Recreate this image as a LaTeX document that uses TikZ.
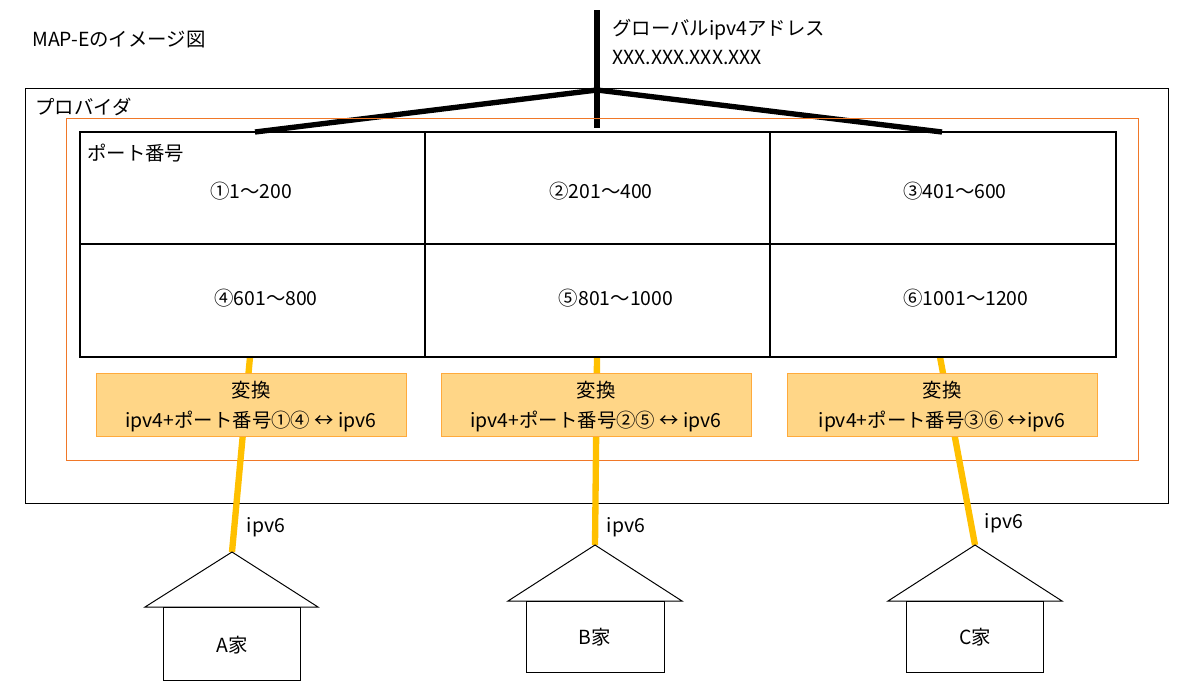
\documentclass[tikz,border=0pt]{standalone}
\usepackage{fontspec}
\setmainfont{Noto Sans CJK JP}
\begin{document}
\begin{tikzpicture}[x=0.025cm,y=-0.025cm,
  txt/.style={font=\fontsize{13.8pt}{16pt}\selectfont, inner sep=0pt},
  yl/.style={line width=4.5pt, draw={rgb,255:red,255;green,192;blue,0}},
  bk/.style={line width=3.8pt, draw=black},
  conv/.style={draw={rgb,255:red,255;green,170;blue,60}, fill={rgb,255:red,255;green,214;blue,135}, line width=0.6pt},
  house/.style={draw=black, fill=white, line width=0.7pt}]
\useasboundingbox (0,0) rectangle (1200,687);
\node[txt,anchor=west] (title) at (32,40) {MAP-Eのイメージ図};
% global
\coordinate (top) at (597,10);
\coordinate (hub) at (597,90);
\coordinate (gL) at (255,132);
\coordinate (gM) at (597,128);
\coordinate (gR) at (942,132);
\draw[bk] (top) -- (gM);
\draw[bk] (gL) -- (hub) -- (gR);
\node[txt,anchor=west] (g1) at (612,30) {グローバルipv4アドレス};
\node[txt,anchor=west] (g2) at (612,58) {XXX.XXX.XXX.XXX};
% provider
\draw[line width=0.7pt] (25,88) rectangle (1168,503);
\node[txt,anchor=west] (prov) at (35,107) {プロバイダ};
\draw[draw={rgb,255:red,240;green,120;blue,40}, line width=0.6pt] (66,118) rectangle (1138,460);
% yellow lines
\coordinate (yA) at (250,357); \coordinate (hA) at (232,552);
\coordinate (yB) at (597,357); \coordinate (hB) at (595,545);
\coordinate (yC) at (940,357); \coordinate (hC) at (975,545);
\draw[yl] (yA) -- (hA);
\draw[yl] (yB) -- (hB);
\draw[yl] (yC) -- (hC);
% grid
\draw[line width=0.8pt] (80,132) rectangle (1116,357);
\draw[line width=0.8pt] (425,132) -- (425,357) (770,132) -- (770,357) (80,244) -- (1116,244);
\node[txt,anchor=west] (pn) at (87,153) {ポート番号};
\node[txt] (c1) at (251,191) {①1～200};
\node[txt] (c2) at (601,191) {②201～400};
\node[txt] (c3) at (955,191) {③401～600};
\node[txt] (c4) at (266,298) {④601～800};
\node[txt] (c5) at (616,298) {⑤801～1000};
\node[txt] (c6) at (966,298) {⑥1001～1200};
% conversion boxes
\draw[conv] (96,373) rectangle (406,436);
\draw[conv] (441,373) rectangle (751,436);
\draw[conv] (787,373) rectangle (1097,436);
\node[txt] (vA) at (251,390) {変換};
\node[txt] (tA) at (251,421) {ipv4+ポート番号①④ ↔ ipv6};
\node[txt] (vB) at (596,390) {変換};
\node[txt] (tB) at (596,421) {ipv4+ポート番号②⑤ ↔ ipv6};
\node[txt] (vC) at (942,390) {変換};
\node[txt] (tC) at (942,421) {ipv4+ポート番号③⑥ ↔ipv6};
\node[txt] (iA) at (266,527) {ipv6};
\node[txt] (iB) at (626,527) {ipv6};
\node[txt] (iC) at (1004,523) {ipv6};
% houses
\draw[house] (hA) -- (318,607) -- (145,607) -- cycle;
\draw[house] (163,607) rectangle (300,680);
\node[txt] (A) at (232,645) {A家};
\draw[house] (hB) -- (682,601) -- (508,601) -- cycle;
\draw[house] (526,601) rectangle (664,672);
\node[txt] (B) at (595,637) {B家};
\draw[house] (hC) -- (1062,601) -- (888,601) -- cycle;
\draw[house] (906,601) rectangle (1043,672);
\node[txt] (C) at (975,637) {C家};
\end{tikzpicture}
\end{document}
